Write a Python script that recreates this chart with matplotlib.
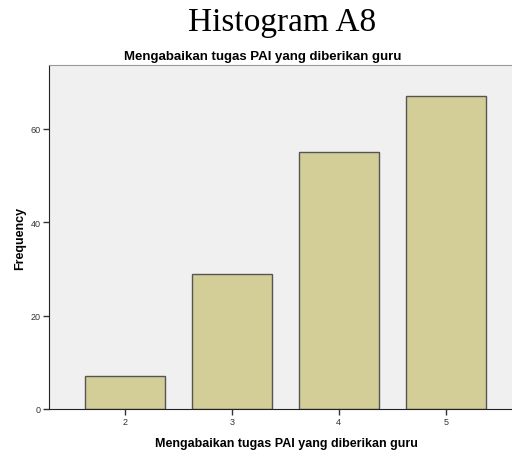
import matplotlib as mpl
mpl.use('Agg')
import matplotlib.pyplot as plt

# values
categories = [2, 3, 4, 5]
frequencies = [7, 29, 55, 67]
yticks = [0, 20, 40, 60]
chart_title = "Histogram A8"
plot_title = "Mengabaikan tugas PAI yang diberikan guru"
xlabel = "Mengabaikan tugas PAI yang diberikan guru"
ylabel = "Frequency"

fig = plt.figure(figsize=(5.12, 4.52), dpi=100)
ax = fig.add_axes([49 / 512, 1 - 410 / 452, 463 / 512, 344 / 452])
ax.set_facecolor('#f0f0f0')

ax.bar(categories, frequencies, width=0.75, color='#d3ce97',
       edgecolor='#555555', linewidth=1.0, zorder=2)

ax.set_xlim(1.29, 5.62)
ax.set_ylim(0, 73.7)
ax.set_xticks(categories)
ax.set_yticks(yticks)
ax.tick_params(axis='both', labelsize=6.5, colors='#333333', length=4, width=1, pad=2)
for lab in ax.get_xticklabels() + ax.get_yticklabels():
    lab.set_family('Liberation Sans')

ax.spines['right'].set_visible(False)
ax.spines['top'].set_color('#999999')
ax.spines['left'].set_color('#222222')
ax.spines['bottom'].set_color('#222222')

ax.set_xlabel(xlabel, fontsize=9, fontweight='bold', family='Liberation Sans')
ax.xaxis.set_label_coords(0.512, -0.08)
ax.set_ylabel(ylabel, fontsize=9, fontweight='bold', family='Liberation Sans', labelpad=3)
fig.text(263 / 512, 1 - 57 / 452, plot_title, fontsize=9.5, fontweight='bold',
         family='Liberation Sans', ha='center', va='center')

fig.text(282 / 512, 1 - 31 / 452, chart_title, fontsize=24, family='Liberation Serif',
         ha='center', va='baseline')

plt.savefig('out.png', dpi=100)
